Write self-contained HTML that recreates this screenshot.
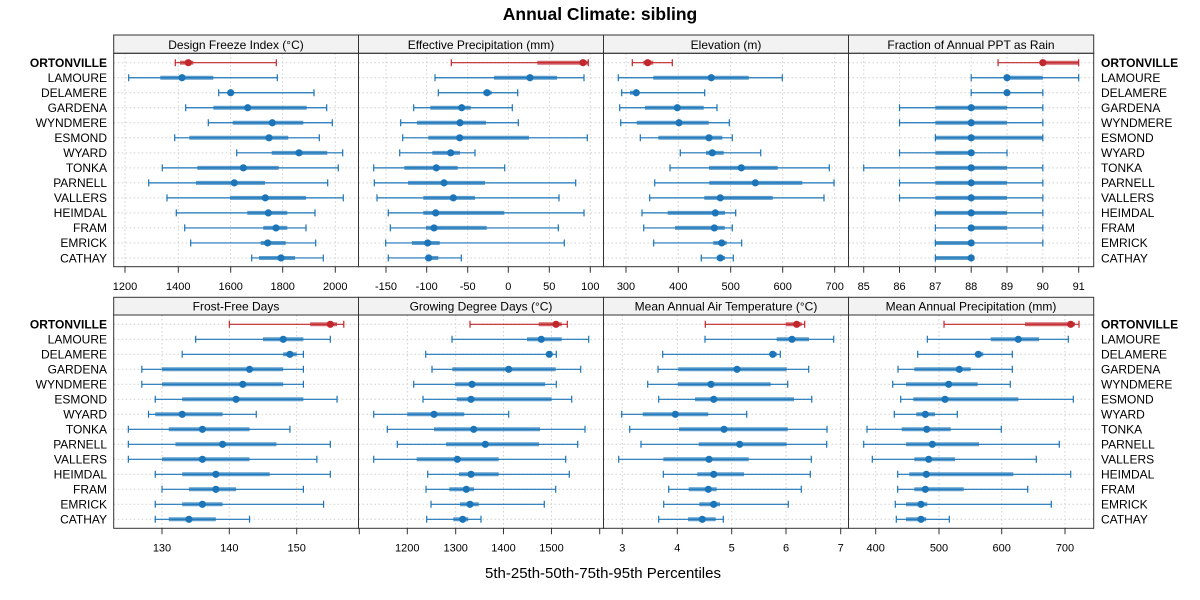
<!DOCTYPE html>
<html><head><meta charset="utf-8"><style>
html,body{margin:0;padding:0;background:#fff;}
svg{display:block;font-family:"Liberation Sans",sans-serif;}
.t{font-size:12px;fill:#000;}
.tk{font-size:11px;fill:#000;text-anchor:middle;}
.st{font-size:12px;fill:#000;text-anchor:middle;}
.l{font-size:12px;fill:#000;text-anchor:end;}
.r{font-size:12px;fill:#000;text-anchor:start;}
</style></head><body>
<svg id="s" width="1200" height="600" viewBox="0 0 1200 600" xmlns="http://www.w3.org/2000/svg">
<rect width="1200" height="600" fill="#fff"/>
<g id="grid"></g>
<g id="marks"></g>
<g id="frames"></g>
<text x="600" y="20" text-anchor="middle" font-weight="bold" font-size="17.5">Annual Climate: sibling</text>
<text x="603" y="578" text-anchor="middle" font-size="15">5th-25th-50th-75th-95th Percentiles</text>
<!-- strips text -->
<text class="st" x="236" y="49">Design Freeze Index (°C)</text>
<text class="st" x="481" y="49">Effective Precipitation (mm)</text>
<text class="st" x="726" y="49">Elevation (m)</text>
<text class="st" x="971" y="49">Fraction of Annual PPT as Rain</text>
<text class="st" x="236" y="310.5">Frost-Free Days</text>
<text class="st" x="481" y="310.5">Growing Degree Days (°C)</text>
<text class="st" x="726" y="310.5">Mean Annual Air Temperature (°C)</text>
<text class="st" x="971" y="310.5">Mean Annual Precipitation (mm)</text>
<!-- top tick labels -->
<g class="tk">
<text class="tk" x="125" y="290">1200</text><text class="tk" x="178.3" y="290">1400</text><text class="tk" x="230.7" y="290">1600</text><text class="tk" x="282.7" y="290">1800</text><text class="tk" x="335.3" y="290">2000</text>
<text class="tk" x="386" y="290">-150</text><text class="tk" x="426.7" y="290">-100</text><text class="tk" x="467.7" y="290">-50</text><text class="tk" x="508.3" y="290">0</text><text class="tk" x="549.3" y="290">50</text><text class="tk" x="590.3" y="290">100</text>
<text class="tk" x="626" y="290">300</text><text class="tk" x="678.3" y="290">400</text><text class="tk" x="730.7" y="290">500</text><text class="tk" x="782.7" y="290">600</text><text class="tk" x="834.7" y="290">700</text>
<text class="tk" x="863.7" y="290">85</text><text class="tk" x="899.5" y="290">86</text><text class="tk" x="935.3" y="290">87</text><text class="tk" x="971.2" y="290">88</text><text class="tk" x="1007" y="290">89</text><text class="tk" x="1042.8" y="290">90</text><text class="tk" x="1078.7" y="290">91</text>
<text class="tk" x="162" y="551.5">130</text><text class="tk" x="229.3" y="551.5">140</text><text class="tk" x="296.7" y="551.5">150</text>
<text class="tk" x="407.3" y="551.5">1200</text><text class="tk" x="455.7" y="551.5">1300</text><text class="tk" x="503.5" y="551.5">1400</text><text class="tk" x="551.5" y="551.5">1500</text>
<text class="tk" x="622.3" y="551.5">3</text><text class="tk" x="677.3" y="551.5">4</text><text class="tk" x="731.7" y="551.5">5</text><text class="tk" x="786" y="551.5">6</text><text class="tk" x="840.7" y="551.5">7</text>
<text class="tk" x="875.7" y="551.5">400</text><text class="tk" x="939" y="551.5">500</text><text class="tk" x="1001.7" y="551.5">600</text><text class="tk" x="1065" y="551.5">700</text>
</g>
<!-- top row labels -->
<text class="l" x="107" y="67" font-weight="bold">ORTONVILLE</text>
<text class="l" x="107" y="82">LAMOURE</text>
<text class="l" x="107" y="97">DELAMERE</text>
<text class="l" x="107" y="112">GARDENA</text>
<text class="l" x="107" y="127.1">WYNDMERE</text>
<text class="l" x="107" y="142.1">ESMOND</text>
<text class="l" x="107" y="157.1">WYARD</text>
<text class="l" x="107" y="172.1">TONKA</text>
<text class="l" x="107" y="187.2">PARNELL</text>
<text class="l" x="107" y="202.2">VALLERS</text>
<text class="l" x="107" y="217.2">HEIMDAL</text>
<text class="l" x="107" y="232.2">FRAM</text>
<text class="l" x="107" y="247.2">EMRICK</text>
<text class="l" x="107" y="262.3">CATHAY</text>
<text class="r" x="1101" y="67" font-weight="bold">ORTONVILLE</text>
<text class="r" x="1101" y="82">LAMOURE</text>
<text class="r" x="1101" y="97">DELAMERE</text>
<text class="r" x="1101" y="112">GARDENA</text>
<text class="r" x="1101" y="127.1">WYNDMERE</text>
<text class="r" x="1101" y="142.1">ESMOND</text>
<text class="r" x="1101" y="157.1">WYARD</text>
<text class="r" x="1101" y="172.1">TONKA</text>
<text class="r" x="1101" y="187.2">PARNELL</text>
<text class="r" x="1101" y="202.2">VALLERS</text>
<text class="r" x="1101" y="217.2">HEIMDAL</text>
<text class="r" x="1101" y="232.2">FRAM</text>
<text class="r" x="1101" y="247.2">EMRICK</text>
<text class="r" x="1101" y="262.3">CATHAY</text>
<!-- bottom row labels -->
<text class="l" x="107" y="328.6" font-weight="bold">ORTONVILLE</text>
<text class="l" x="107" y="343.6">LAMOURE</text>
<text class="l" x="107" y="358.6">DELAMERE</text>
<text class="l" x="107" y="373.6">GARDENA</text>
<text class="l" x="107" y="388.6">WYNDMERE</text>
<text class="l" x="107" y="403.6">ESMOND</text>
<text class="l" x="107" y="418.6">WYARD</text>
<text class="l" x="107" y="433.6">TONKA</text>
<text class="l" x="107" y="448.6">PARNELL</text>
<text class="l" x="107" y="463.6">VALLERS</text>
<text class="l" x="107" y="478.6">HEIMDAL</text>
<text class="l" x="107" y="493.6">FRAM</text>
<text class="l" x="107" y="508.6">EMRICK</text>
<text class="l" x="107" y="523.6">CATHAY</text>
<text class="r" x="1101" y="328.6" font-weight="bold">ORTONVILLE</text>
<text class="r" x="1101" y="343.6">LAMOURE</text>
<text class="r" x="1101" y="358.6">DELAMERE</text>
<text class="r" x="1101" y="373.6">GARDENA</text>
<text class="r" x="1101" y="388.6">WYNDMERE</text>
<text class="r" x="1101" y="403.6">ESMOND</text>
<text class="r" x="1101" y="418.6">WYARD</text>
<text class="r" x="1101" y="433.6">TONKA</text>
<text class="r" x="1101" y="448.6">PARNELL</text>
<text class="r" x="1101" y="463.6">VALLERS</text>
<text class="r" x="1101" y="478.6">HEIMDAL</text>
<text class="r" x="1101" y="493.6">FRAM</text>
<text class="r" x="1101" y="508.6">EMRICK</text>
<text class="r" x="1101" y="523.6">CATHAY</text>
</svg>
<script>
(function(){
var NS="http://www.w3.org/2000/svg";
function el(p,t,a){var e=document.createElementNS(NS,t);for(var k in a)e.setAttribute(k,a[k]);p.appendChild(e);return e;}
var grid=document.getElementById('grid'),marks=document.getElementById('marks'),frames=document.getElementById('frames');
var XS=[113.7,358.5,603.5,848.5,1093.7];
function f4(v){return 863.7+(v-85)*35.83;}
function f5(v){return 162+(v-130)*6.733;}
function map(a,f){return a.map(function(r){return r.map(f);});}
var D=[
[[175.3,180,188.3,193.3,276.3],[128.7,160.3,182,213.3,277.3],[218.7,228.3,230.7,233.3,314],[185.7,213.3,247.7,306.7,326.7],[208.3,232.7,272.3,303.3,332.3],[174.7,189.3,269,288.3,319.3],[236.7,271.7,299,327.3,342.7],[162.3,197.3,243.3,278.7,338.3],[148.7,196,234.3,265,327.7],[167,230,265.3,306,343.3],[176.3,247.3,268.3,287.3,315],[184.7,263.3,276,287.3,306],[190.7,260.7,267.7,285.7,315.7],[251.7,259,281,295,323.3]],
[[451.3,537.3,583,588.3,588.3],[435,494,530,557,584],[438.3,483.3,487,491.7,517.7],[413.7,430.3,461.7,470.7,512.3],[400.7,417,460,486,518.3],[402.7,428.3,459.7,529,587.3],[399.7,432.3,450.7,460,475],[373.7,404.3,436.3,457.7,504.7],[374.3,408,444,485,575.7],[377,423.3,453.3,475,559],[388.3,423.3,435.7,504.3,584],[390.3,426,434,486.7,558.3],[385.7,412,427.7,439.7,564.3],[388.3,425.3,428.7,438.3,461.3]],
[[632.3,643.3,647.7,653.3,672.3],[618.3,653.3,711.3,748.7,782.3],[621.7,630,636.3,638.3,704.7],[619.7,645,677.3,703.7,717],[620.7,636.7,679,708.7,729.3],[640.3,658.3,709,722.3,732.3],[680.3,706,712.3,723.7,760.7],[670,709,741.3,777.7,829.3],[654.7,709.3,755.3,802.3,834],[649.7,704.3,720.3,772.7,824],[642,667.7,715.3,725,735.7],[643.7,675,714.3,724.7,732.3],[653.7,713.3,721.7,726.7,741.7],[701.3,716.7,720.3,725,733.3]],
map([[88.75,90,90,91,91],[88,89,89,90,91],[88,89,89,89,90],[86,87,88,89,90],[86,87,88,89,90],[87,87,88,90,90],[86,87,88,88,89],[85,87,88,89,90],[86,87,88,89,90],[86,87,88,89,90],[87,87,88,89,90],[87,88,88,89,90],[87,87,88,88,90],[87,87,88,88,88]],f4),
map([[140,152,155,156,157],[135,145,148,151,155],[133,148,149,150,151],[127,130,143,148,151],[127,130,142,148,151],[129,133,141,151,156],[128,129,133,139,144],[125,131,136,143,149],[125,132,139,147,155],[125,130,136,143,153],[129,133,138,146,155],[130,134,138,141,151],[129,133,136,139,154],[129,131,134,138,143]],f5),
[[470,538.7,556,561.7,567.3],[452,527,541.3,561.7,588.7],[425.7,546.7,549.3,551.7,556.3],[432,452.3,508.7,555.7,580.7],[413.7,455,472,545,556.3],[423,456.7,471,551.7,571.7],[373.7,407.3,434,464.3,508.7],[387.3,434,473.7,540,585],[397.3,446,485.3,539,577.7],[373.7,416.7,457.3,498.7,565.7],[427.7,459,471,498.7,569.3],[426,449.3,466.3,474,555.7],[431,460,470,478.7,544.3],[426.7,453.3,462.7,468.3,481]],
[[705.3,785.7,796.7,801.7,804.7],[705,776.7,792,809,833.7],[662.7,770,772.7,776.7,780.3],[658,678.3,737,786.7,808.7],[647.7,677.7,711,770.7,787.7],[658.7,695,713.7,794,811.7],[621.7,642.7,675.3,708.3,746.7],[629.7,679,724,787.7,827],[641,698.7,739.7,786.7,826.7],[618.7,663.3,709,748.7,811.3],[663.3,697.3,713.7,744,810.3],[668.7,688.7,708.3,716.7,801.3],[663.7,699.3,713.7,720,788.3],[658.7,688,702.3,715.7,723.3]],
[[944,1025,1070.7,1075,1079],[927.3,990.7,1018.3,1039,1068.3],[917.7,976.7,978.3,983.3,1012.3],[898,914.3,959.3,970.7,1012.3],[892.7,906,948.7,977.7,1010.3],[900.7,913.3,945,1018.3,1073.3],[894.3,916.3,925.3,935,957.3],[867,901.7,926.7,950.7,1001.3],[863.7,906,932.3,979,1059.3],[872.3,914.3,928.7,955,1036.3],[897.7,909.3,926.3,1013.3,1070.7],[897.7,914.3,925.3,963.7,1027.7],[895.3,906,921,927.3,1051.3],[896.3,906,921,926.3,949.3]]
];
var G=[[125,178.3,230.7,282.7,335.3],[386,426.7,467.7,508.3,549.3,590.3],[626,678.3,730.7,782.7,834.7],[863.7,899.5,935.3,971.2,1007,1042.8,1078.7],
[162,229.3,296.7],[407.3,455.7,503.5,551.5],[622.3,677.3,731.7,786,840.7],[875.7,939,1001.7,1065]];
var T=[G[0],G[1],G[2],G[3],G[4],[359.3,407.3,455.7,503.5,551.5,599.7],G[6],G[7]];
var ROWS=[{sy:35,py0:53.3,py1:266.7,r0:62.7,dy:15.02},{sy:297.3,py0:315,py1:528.3,r0:324.3,dy:15}];
for(var p=0;p<8;p++){
 var row=ROWS[p<4?0:1],c=p%4,x0=XS[c],x1=XS[c+1];
 // grid
 G[p].forEach(function(x){el(grid,'line',{x1:x,x2:x,y1:row.py0,y2:row.py1,stroke:'#cfcfcf','stroke-width':1,'stroke-dasharray':'1.5,2.5'});});
 for(var i=0;i<14;i++){var y=row.r0+row.dy*i;el(grid,'line',{x1:x0,x2:x1,y1:y,y2:y,stroke:'#cfcfcf','stroke-width':1,'stroke-dasharray':'1.5,2.5'});}
 // marks
 for(var i=0;i<14;i++){
  var y=row.r0+row.dy*i,d=D[p][i],col=i==0?'#c1272d':'#1b75b8';
  el(marks,'path',{d:'M'+d[0]+' '+(y-3.5)+'V'+(y+3.5)+'M'+d[0]+' '+y+'H'+d[4]+'M'+d[4]+' '+(y-3.5)+'V'+(y+3.5),stroke:col,'stroke-width':1.2,fill:'none'});
  el(marks,'line',{x1:d[1],x2:d[3],y1:y,y2:y,stroke:col,'stroke-width':4,'stroke-opacity':0.7});
  el(marks,'circle',{cx:d[2],cy:y,r:3.6,fill:col});
 }
 // frames
 el(frames,'rect',{x:x0,y:row.sy,width:x1-x0,height:row.py0-row.sy,fill:'#f2f2f2',stroke:'#333','stroke-width':1});
 el(frames,'rect',{x:x0,y:row.py0,width:x1-x0,height:row.py1-row.py0,fill:'none',stroke:'#333','stroke-width':1});
 T[p].forEach(function(x){el(frames,'line',{x1:x,x2:x,y1:row.py1,y2:row.py1+6,stroke:'#333','stroke-width':1});});
}
// move strip text above frames
var s=document.getElementById('s');var texts=[].slice.call(s.querySelectorAll('text'));texts.forEach(function(t){s.appendChild(t);});
})();
</script>
</body></html>
